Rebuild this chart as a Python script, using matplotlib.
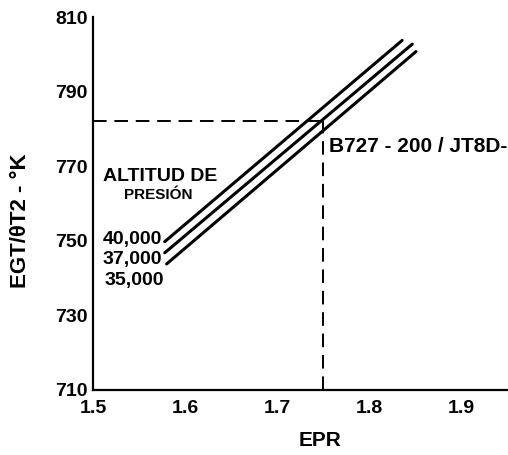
import numpy as np
import matplotlib
matplotlib.use("Agg")
from matplotlib import pyplot as plt

plt.rcParams['font.family'] = ['Liberation Sans', 'DejaVu Sans']
plt.rcParams['font.weight'] = 'bold'

# EGT/theta T2 versus EPR, one straight line per pressure altitude
altitudes = ['40,000', '37,000', '35,000']
epr_start = [1.578, 1.578, 1.580]
epr_end = [1.836, 1.847, 1.851]
egt_start = [749.8, 746.8, 743.8]
egt_end = [803.8, 802.8, 800.8]

# altitude label heights
label_egt = [750.5, 745.1, 739.5]

# reading for the example engine
ref_epr = 1.75
ref_egt = 782.3

x_ticks = [1.5, 1.6, 1.7, 1.8, 1.9]
y_ticks = [710, 730, 750, 770, 790, 810]

fig = plt.figure(figsize=(5.08, 4.55), dpi=100)
ax = fig.add_axes([0.183, 0.143, 0.817, 0.819])

for i in range(len(altitudes)):
    ax.plot([epr_start[i], epr_end[i]], [egt_start[i], egt_end[i]],
            color='black', lw=2.2, solid_capstyle='round')
    ax.text(epr_start[i] - 0.003, label_egt[i], altitudes[i],
            ha='right', va='center', fontsize=14, fontweight='bold')

# dashed read-off lines
ax.plot([1.5, ref_epr], [ref_egt, ref_egt], color='black', lw=1.4,
        dashes=[7, 4])
ax.plot([ref_epr, ref_epr], [710, ref_egt], color='black', lw=1.4,
        dashes=[7, 4])

ax.text(1.573, 767.2, 'ALTITUD DE', ha='center', va='center',
        fontsize=14, fontweight='bold')
ax.text(1.571, 762.4, 'PRESIÓN', ha='center', va='center',
        fontsize=11, fontweight='bold')
ax.text(1.7565, 775.2, 'B727 - 200 / JT8D-', ha='left', va='center',
        fontsize=15, fontweight='bold', clip_on=False)

ax.set_xlim(1.5, 1.951)
ax.set_ylim(710, 810)
ax.set_xticks(x_ticks)
ax.set_yticks(y_ticks)
ax.set_xticklabels([f'{t:.1f}' for t in x_ticks], fontsize=14, fontweight='bold')
ax.set_yticklabels([str(t) for t in y_ticks], fontsize=14, fontweight='bold')
ax.tick_params(axis='x', length=0, pad=7)
ax.tick_params(axis='y', length=0, pad=4)

for side in ['top', 'right']:
    ax.spines[side].set_visible(False)
for side in ['left', 'bottom']:
    ax.spines[side].set_linewidth(1.6)

# axis titles placed on the figure
fig.text(0.630, 0.031, 'EPR', ha='center', va='center',
         fontsize=15, fontweight='bold')
fig.text(0.040, 0.516, 'EGT/θT2 - °K', ha='center', va='center',
         rotation=90, fontsize=16, fontweight='bold')

plt.savefig('out.png', dpi=100)
